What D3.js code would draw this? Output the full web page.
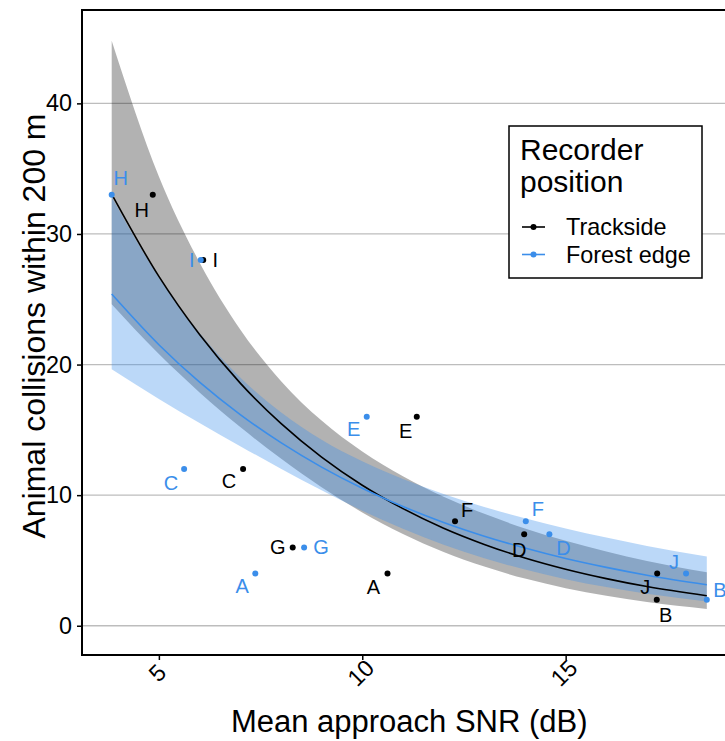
<!DOCTYPE html>
<html>
<head>
<meta charset="utf-8">
<script src="https://cdn.jsdelivr.net/npm/d3@7"></script>
<style>
  body { margin: 0; background: #fff; }
  text { font-family: "Liberation Sans", Arial, sans-serif; }
</style>
</head>
<body>
<script>
// site letters and counts (same for both recorder positions)
const letters = ['A','B','C','D','E','F','G','H','I','J']
const collisions = [4, 2, 12, 7, 16, 8, 6, 33, 28, 4]
const trackSNR  = [10.62, 17.24, 7.07, 13.98, 11.34, 12.28, 8.29, 4.85, 6.09, 17.25]
const forestSNR = [7.37, 18.47, 5.62, 14.60, 10.11, 14.02, 8.57, 3.84, 6.03, 17.96]

// fitted curves + confidence band
const fitX      = [3.84, 5, 6, 7, 8, 9, 10, 11, 12, 13, 14, 15, 16, 17, 18.47]
const trackFit  = [33.05, 26.75, 22.30, 18.58, 15.49, 12.91, 10.76, 8.97, 7.47, 6.23, 5.19, 4.33, 3.61, 3.00, 2.30]
const trackLo   = [24.61, 20.80, 17.87, 15.21, 12.80, 10.61, 8.68, 7.03, 5.65, 4.53, 3.61, 2.88, 2.29, 1.82, 1.29]
const trackHi   = [44.80, 34.41, 27.82, 22.69, 18.75, 15.71, 13.34, 11.44, 9.87, 8.57, 7.45, 6.51, 5.69, 4.96, 4.09]
const forestFit = [25.40, 21.52, 18.65, 16.17, 14.02, 12.15, 10.53, 9.13, 7.91, 6.86, 5.95, 5.15, 4.47, 3.87, 3.14]
const forestLo  = [19.65, 17.37, 15.52, 13.75, 12.03, 10.37, 8.81, 7.42, 6.20, 5.17, 4.30, 3.57, 2.96, 2.45, 1.86]
const forestHi  = [32.84, 26.67, 22.41, 19.01, 16.34, 14.24, 12.59, 11.24, 10.09, 9.10, 8.23, 7.44, 6.75, 6.11, 5.31]

const xTicks = [5, 10, 15]
const yTicks = [0, 10, 20, 30, 40]
const seriesNames = ['Trackside', 'Forest edge']

// label nudges in px (dx, dy), order A..J
const trackNudge  = [[-14,13],[9,15],[-14,12],[-5,16],[-11,14],[12,-11],[-15,0],[-11,15],[12,0],[-12,13]]
const forestNudge = [[-13,12],[13,-10],[-13,14],[14,14],[-13,12],[12,-12],[17,0],[9,-17],[-9,0],[-12,-12]]

const colors = { Trackside: '#000000', 'Forest edge': '#3b8eea' }

let svgWidth = 725
let svgHeight = 741
let margin = {top: 10, left: 82, bottom: 86}
let panelRight = 736.5

let svg = d3.select('body').append('svg')
            .attr('width', svgWidth)
            .attr('height', svgHeight)

let xScale = d3.scaleLinear().domain([3.11, 19.2]).range([margin.left, panelRight])
let yScale = d3.scaleLinear().domain([-2.24, 47.15]).range([svgHeight - margin.bottom, margin.top])

svg.append('clipPath').attr('id', 'panel-clip')
   .append('rect')
   .attr('x', margin.left).attr('y', margin.top)
   .attr('width', panelRight - margin.left)
   .attr('height', svgHeight - margin.bottom - margin.top)

// gridlines
svg.append('g').selectAll('line')
   .data(yTicks)
   .join('line')
   .attr('x1', margin.left).attr('x2', panelRight)
   .attr('y1', d => yScale(d)).attr('y2', d => yScale(d))
   .attr('stroke', '#bdbdbd').attr('stroke-width', 1.3)

let series = [
    {name: 'Trackside', snr: trackSNR, fit: trackFit, lo: trackLo, hi: trackHi, nudge: trackNudge, alpha: 0.3},
    {name: 'Forest edge', snr: forestSNR, fit: forestFit, lo: forestLo, hi: forestHi, nudge: forestNudge, alpha: 0.35},
]

let plot = svg.append('g').attr('clip-path', 'url(#panel-clip)')

let area = d3.area()
             .x(d => xScale(d.x))
             .y0(d => yScale(d.lo))
             .y1(d => yScale(d.hi))
             .curve(d3.curveMonotoneX)
let line = d3.line()
             .x(d => xScale(d.x))
             .y(d => yScale(d.y))
             .curve(d3.curveMonotoneX)

series.forEach(s => {
    let band = fitX.map((x, i) => ({x: x, lo: s.lo[i], hi: s.hi[i]}))
    plot.append('path')
        .datum(band)
        .attr('d', area)
        .attr('fill', colors[s.name])
        .attr('fill-opacity', s.alpha)
})

series.forEach(s => {
    let pts = fitX.map((x, i) => ({x: x, y: s.fit[i]}))
    plot.append('path')
        .datum(pts)
        .attr('d', line)
        .attr('fill', 'none')
        .attr('stroke', colors[s.name])
        .attr('stroke-width', 1.6)
})

series.forEach(s => {
    let pts = letters.map((l, i) => ({l: l, x: s.snr[i], y: collisions[i], n: s.nudge[i]}))
    plot.append('g').selectAll('circle')
        .data(pts)
        .join('circle')
        .attr('cx', d => xScale(d.x))
        .attr('cy', d => yScale(d.y))
        .attr('r', 3)
        .attr('fill', colors[s.name])
    plot.append('g').selectAll('text')
        .data(pts)
        .join('text')
        .attr('x', d => xScale(d.x) + d.n[0])
        .attr('y', d => yScale(d.y) + d.n[1])
        .attr('text-anchor', 'middle')
        .attr('dominant-baseline', 'central')
        .attr('font-size', 20)
        .attr('fill', colors[s.name])
        .text(d => d.l)
})

// panel border
svg.append('rect')
   .attr('x', margin.left).attr('y', margin.top)
   .attr('width', panelRight - margin.left)
   .attr('height', svgHeight - margin.bottom - margin.top)
   .attr('fill', 'none').attr('stroke', '#000').attr('stroke-width', 2)

// axes
let yAxis = d3.axisLeft(yScale).tickValues(yTicks).tickSize(5).tickPadding(5)
let yg = svg.append('g').attr('transform', 'translate(' + margin.left + ',0)').call(yAxis)
yg.select('.domain').remove()
yg.selectAll('line').attr('stroke', '#000').attr('stroke-width', 1.5)
yg.selectAll('text').attr('font-size', 23.4).attr('fill', '#000')
  .style('font-family', '"Liberation Sans", Arial, sans-serif')

let xAxis = d3.axisBottom(xScale).tickValues(xTicks).tickSize(5)
let xg = svg.append('g').attr('transform', 'translate(0,' + (svgHeight - margin.bottom) + ')').call(xAxis)
xg.select('.domain').remove()
xg.selectAll('line').attr('stroke', '#000').attr('stroke-width', 1.5)
xg.selectAll('text')
  .attr('font-size', 23.4).attr('fill', '#000')
  .style('font-family', '"Liberation Sans", Arial, sans-serif')
  .attr('y', null).attr('dy', null)
  .attr('text-anchor', 'middle')
  .attr('dominant-baseline', 'central')
  .attr('transform', 'translate(-2,18) rotate(-45)')

// axis titles
svg.append('text')
   .attr('x', (margin.left + panelRight) / 2)
   .attr('y', 732)
   .attr('text-anchor', 'middle')
   .attr('font-size', 31)
   .text('Mean approach SNR (dB)')

svg.append('text')
   .attr('transform', 'translate(45,326) rotate(-90)')
   .attr('text-anchor', 'middle')
   .attr('font-size', 32)
   .text('Animal collisions within 200 m')

// legend
let legend = svg.append('g').attr('transform', 'translate(509,126)')
legend.append('rect')
      .attr('width', 193).attr('height', 152)
      .attr('fill', '#fff').attr('stroke', '#000').attr('stroke-width', 1.5)
legend.append('text').attr('x', 11).attr('y', 34).attr('font-size', 30).text('Recorder')
legend.append('text').attr('x', 11).attr('y', 66).attr('font-size', 30).text('position')

let items = legend.selectAll('.key')
                  .data(seriesNames)
                  .join('g')
                  .classed('key', true)
                  .attr('transform', (d, i) => 'translate(0,' + (101 + i * 27.5) + ')')
items.append('line')
     .attr('x1', 13).attr('x2', 36)
     .attr('stroke', d => colors[d]).attr('stroke-width', 1.6)
items.append('circle')
     .attr('cx', 24.5).attr('r', 3)
     .attr('fill', d => colors[d])
items.append('text')
     .attr('x', 57).attr('y', 8)
     .attr('font-size', 23.4)
     .text(d => d)
</script>
</body>
</html>
